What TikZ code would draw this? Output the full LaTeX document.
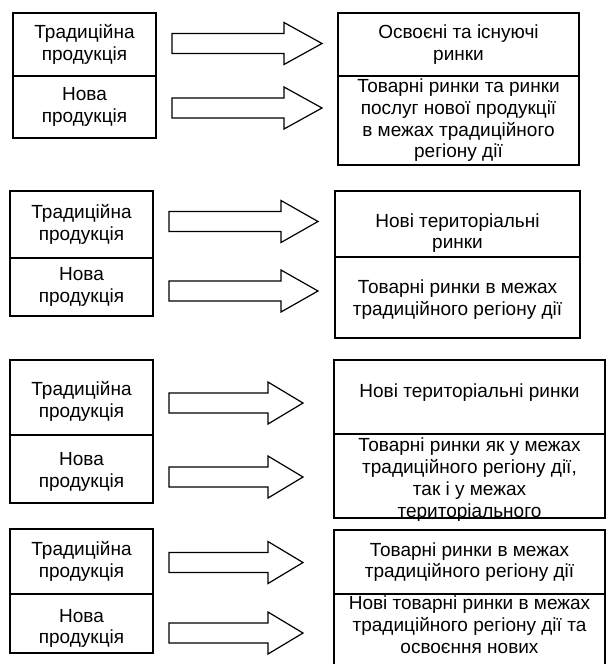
\documentclass[tikz,border=0pt]{standalone}
\usepackage{fontspec}
\setmainfont{Liberation Sans}
\usetikzlibrary{calc}
% \mkcell{name}{x0}{y0}{x1}{y1}: an empty framed cell spanning the given corners
\newcommand\mkcell[5]{\node[cell, minimum width={(#4-#2)*1pt}, minimum height={(#5-#3)*1pt}] (#1) at (#2,#3) {};}
% \mkarrow{start}{shaft length}{head length}: hollow block arrow pointing right
\newcommand\mkarrow[3]{\draw[barrow] (#1) ++(0,-10) -- ++(#2,0) -- ++(0,-11) -- ++(#3,21) -- ++(-#3,21) -- ++(0,-11) -- ++(-#2,0) -- cycle;}
\begin{document}
\begin{tikzpicture}[x=1pt,y=-1pt,
  cell/.style={draw, line width=1.2pt, rectangle, inner sep=0pt, outer sep=0pt, anchor=north west},
  txt/.style={align=center, inner sep=0pt, font=\fontsize{19}{21.7}\selectfont},
  barrow/.style={draw, line width=1.2pt, line join=miter}]
\useasboundingbox (0,0) rectangle (606,664);
\clip (0,0) rectangle (606,664);

% ---- group 1
\mkcell{l1a}{13}{13}{156}{76}
\mkcell{l1b}{13}{76}{156}{138}
\mkcell{r1a}{338}{13}{579}{76}
\mkcell{r1b}{338}{76}{579}{165}
\node[txt] (t-l1a) at (l1a.center) {Традиційна\\продукція};
\node[txt] (t-l1b) at (l1b.center) {Нова\\продукція};
\node[txt] (t-r1a) at (r1a.center) {Освоєні та існуючі\\ринки};
\node[txt] (t-r1b) at (r1b.center) {Товарні ринки та ринки\\послуг нової продукції\\в межах традиційного\\регіону дії};
\coordinate (a1a) at (172,43.5);
\coordinate (a1b) at (172,108);
\mkarrow{a1a}{112}{38}
\mkarrow{a1b}{112}{38}

% ---- group 2
\mkcell{l2a}{10}{191}{153}{258}
\mkcell{l2b}{10}{258}{153}{316}
\mkcell{r2a}{335}{191}{580}{257}
\mkcell{r2b}{335}{257}{580}{338}
\node[txt] (t-l2a) at (l2a.center) {Традиційна\\продукція};
\node[txt] (t-l2b) at (l2b.center) {Нова\\продукція};
\node[txt] (t-r2a) at ($(r2a.center)+(0,9)$) {Нові територіальні\\ринки};
\node[txt] (t-r2b) at ($(r2b.center)+(0,2)$) {Товарні ринки в межах\\традиційного регіону дії};
\coordinate (a2a) at (169,221.5);
\coordinate (a2b) at (169,291);
\mkarrow{a2a}{112}{37}
\mkarrow{a2b}{112}{37}

% ---- group 3
\mkcell{l3a}{10}{360}{153}{435}
\mkcell{l3b}{10}{435}{153}{503}
\mkcell{r3a}{334}{360}{605}{434}
\mkcell{r3b}{334}{434}{605}{518}
\node[txt] (t-l3a) at ($(l3a.center)+(0,4)$) {Традиційна\\продукція};
\node[txt] (t-l3b) at ($(l3b.center)+(0,3)$) {Нова\\продукція};
\node[txt] (t-r3a) at ($(r3a.center)+(0,-4)$) {Нові територіальні ринки};
\node[txt, anchor=north] (t-r3b) at ($(r3b.north)+(0,4)$) {Товарні ринки як у межах\\традиційного регіону дії,\\так і у межах\\територіального};
\coordinate (a3a) at (169,403);
\coordinate (a3b) at (169,477);
\mkarrow{a3a}{99}{35}
\mkarrow{a3b}{99}{35}

% ---- group 4
\mkcell{l4a}{10}{529}{153}{594}
\mkcell{l4b}{10}{594}{153}{653}
\mkcell{r4a}{334}{530}{605}{594}
\mkcell{r4b}{334}{594}{605}{690}
\node[txt] (t-l4a) at (l4a.center) {Традиційна\\продукція};
\node[txt] (t-l4b) at ($(l4b.center)+(0,5)$) {Нова\\продукція};
\node[txt] (t-r4a) at (r4a.center) {Товарні ринки в межах\\традиційного регіону дії};
\node[txt, anchor=north] (t-r4b) at ($(r4b.north)+(0,2)$) {Нові товарні ринки в межах\\традиційного регіону дії та\\освоєння нових};
\coordinate (a4a) at (169,562.5);
\coordinate (a4b) at (169,633);
\mkarrow{a4a}{99}{35}
\mkarrow{a4b}{99}{35}
\end{tikzpicture}
\end{document}
